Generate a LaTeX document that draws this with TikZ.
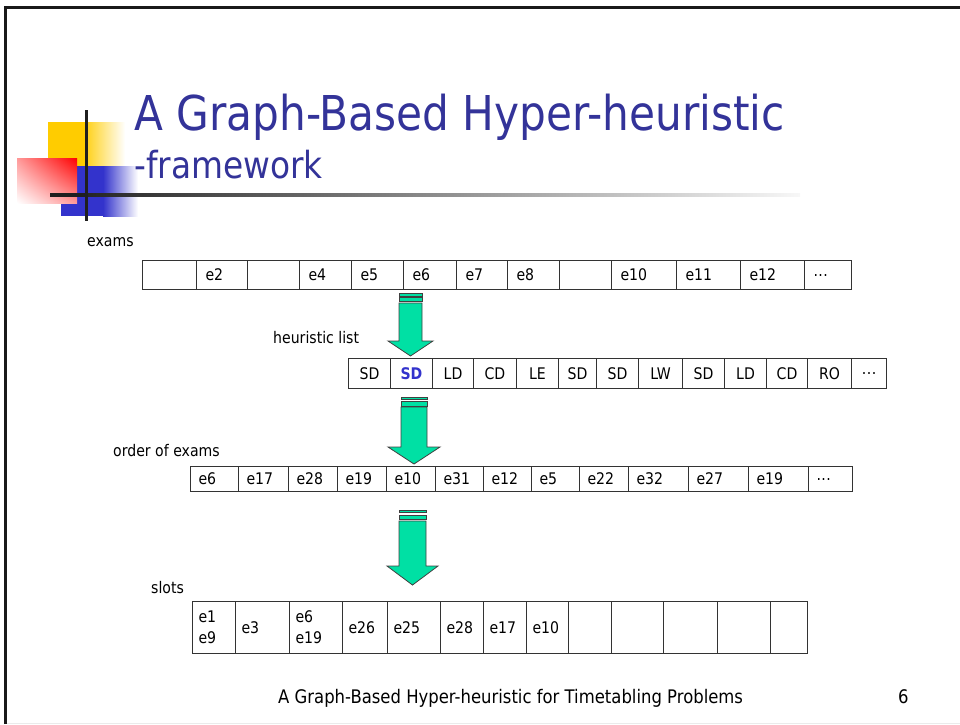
\documentclass[tikz,border=0pt]{standalone}
\usepackage{fontspec}
\usetikzlibrary{shadings}
\setmainfont{DejaVu Sans}[FakeStretch=0.88]
\definecolor{titleblue}{RGB}{51,51,153}
\definecolor{sdblue}{RGB}{51,51,204}
\definecolor{logoyellow}{RGB}{255,204,0}
\definecolor{logoblue}{RGB}{51,51,204}
\definecolor{arrowgreen}{RGB}{0,224,164}
\definecolor{cellline}{RGB}{51,51,51}
\newcommand\bodyfont{\fontsize{16}{21}\selectfont}
\newcommand\moredots{.\kern0.5pt.\kern0.5pt.}
\begin{document}
\begin{tikzpicture}[x=1pt,y=-1pt,
  cellL/.style={draw=cellline, line width=1pt, anchor=north west, inner xsep=9pt, inner ysep=0pt, align=left, font=\bodyfont},
  cellC/.style={draw=cellline, line width=1pt, anchor=north west, inner xsep=0pt, inner ysep=0pt, align=center, font=\bodyfont},
  lbl/.style={anchor=base west, inner sep=0pt, font=\bodyfont},
  blockarrow/.style={fill=arrowgreen, draw=black!75, line width=0.8pt, line join=miter}]
\useasboundingbox (0,0) rectangle (960,724);
% frame
\draw[line width=3pt, black!90] (5,724) -- (5,7) -- (960,7);
\draw[black!8, line width=1pt] (7,723) -- (960,723);
% logo
\fill[logoyellow] (48,122) rectangle (88,166);
\shade[left color=logoyellow!85!white, right color=white] (88,122) rectangle (125,166);
\fill[logoblue] (61,166) rectangle (103,216);
\shade[left color=logoblue, right color=white] (103,166) rectangle (138,216);
\shade[upper right=red, upper left=red!40!white, lower right=red!40!white, lower left=white] (17,158) rectangle (77,203);
\fill[black!88] (84.5,110) rectangle (87.5,221);
\fill[black!88] (50,193) rectangle (88,196.5);
\shade[left color=black!85, right color=black!3] (88,193) rectangle (800,196.5);
% title
\node[anchor=base west, inner sep=0pt, text=titleblue, font=\fontsize{48}{52}\selectfont] (title) at (134,130) {A Graph-Based Hyper-heuristic};
\node[anchor=base west, inner sep=0pt, text=titleblue, font=\fontsize{37.3}{40}\selectfont] (subtitle) at (134,178) {-framework};
% labels
\node[lbl] (lexams) at (87,246) {exams};
\node[lbl] (lheur) at (273,343) {heuristic list};
\node[lbl] (lorder) at (113,456) {order of exams};
\node[lbl] (lslots) at (151,593) {slots};
% exams row
\foreach \a/\b/\t [count=\i] in {142/196/,196/247/e2,247/299/,299/351/e4,351/403/e5,403/456/e6,456/507/e7,507/559/e8,559/611/,611/676/e10,676/740/e11,740/804/e12,804/851/\moredots}{
  \pgfmathsetmacro\w{\b-\a}\pgfmathsetmacro\tw{\w-18}
  \node[cellL, minimum width=\w pt, text width=\tw pt, minimum height=29pt] (ex\i) at (\a,260) {\t};
}
% heuristic row
\foreach \a/\b/\t [count=\i] in {348/390/SD,390/432/{\textbf{\color{sdblue}SD}},432/473/LD,473/516/CD,516/558/LE,558/596/SD,596/638/SD,638/682/LW,682/724/SD,724/766/LD,766/807/CD,807/851/RO,851/886/\moredots}{
  \pgfmathsetmacro\w{\b-\a}
  \node[cellC, minimum width=\w pt, text width=\w pt, minimum height=30pt] (hl\i) at (\a,358) {\t};
}
% order row
\foreach \a/\b/\t [count=\i] in {190/238/e6,238/288/e17,288/337/e28,337/386/e19,386/435/e10,435/483/e31,483/531/e12,531/579/e5,579/628/e22,628/688/e32,688/748/e27,748/808/e19,808/852/\moredots}{
  \pgfmathsetmacro\w{\b-\a}\pgfmathsetmacro\tw{\w-16}
  \node[cellL, inner xsep=8pt, minimum width=\w pt, text width=\tw pt, minimum height=25pt] (or\i) at (\a,466) {\t};
}
% slots row
\foreach \a/\b/\t [count=\i] in {192/235/{e1\\e9},235/289/e3,289/342/{e6\\e19},342/387/e26,387/440/e25,440/483/e28,483/526/e17,526/568/e10,568/611/,611/663/,663/717/,717/770/,770/807/}{
  \pgfmathsetmacro\w{\b-\a}\pgfmathsetmacro\tw{\w-12}
  \node[cellL, inner xsep=6pt, minimum width=\w pt, text width=\tw pt, minimum height=52pt] (sl\i) at (\a,601) {\t};
}
% block arrows
\filldraw[blockarrow] (399,293) rectangle (422,296);
\filldraw[blockarrow] (399,297.5) rectangle (422,301);
\filldraw[blockarrow] (399,303) -- (422,303) -- (422,341) -- (433,341) -- (410.5,356) -- (388,341) -- (399,341) -- cycle;
\filldraw[blockarrow] (401,397) rectangle (427,399.5);
\filldraw[blockarrow] (401,401) rectangle (427,406);
\filldraw[blockarrow] (401,407) -- (427,407) -- (427,447) -- (440,447) -- (414,464) -- (388,447) -- (401,447) -- cycle;
\filldraw[blockarrow] (399,510) rectangle (426,512.5);
\filldraw[blockarrow] (399,515) rectangle (426,519);
\filldraw[blockarrow] (399,521) -- (426,521) -- (426,566) -- (438,566) -- (412.5,585) -- (387,566) -- (399,566) -- cycle;
% footer
\node[anchor=base west, inner sep=0pt, font=\fontsize{18.7}{22}\selectfont] (footer) at (278,703) {A Graph-Based Hyper-heuristic for Timetabling Problems};
\node[anchor=base west, inner sep=0pt, font=\fontsize{18.7}{22}\selectfont] (pagenum) at (898,703) {6};
\end{tikzpicture}
\end{document}
